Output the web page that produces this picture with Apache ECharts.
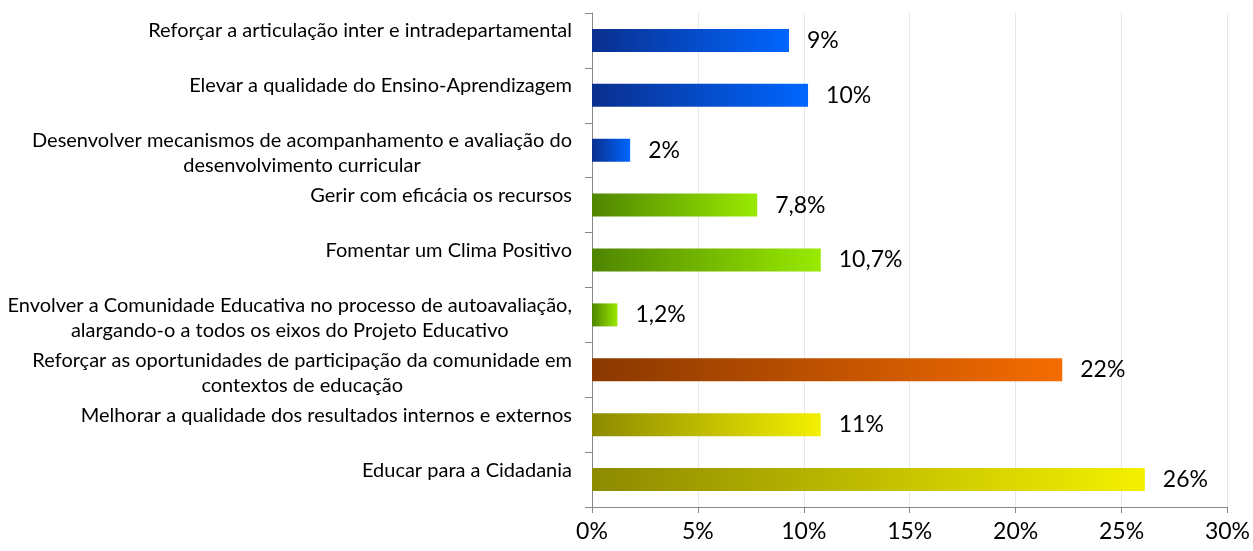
<!DOCTYPE html>
<html>
<head>
<meta charset="utf-8">
<script src="https://cdn.jsdelivr.net/npm/echarts@6/dist/echarts.min.js"></script>
<style>
  html, body { margin: 0; padding: 0; background: #fff; }
  #chart { width: 1253px; height: 551px; }
</style>
</head>
<body>
<div id="chart"></div>
<script>
// categories, top to bottom
var categories = [
  'Reforçar a articulação inter e intradepartamental',
  'Elevar a qualidade do Ensino-Aprendizagem',
  'Desenvolver mecanismos de acompanhamento e avaliação do\ndesenvolvimento curricular',
  'Gerir com eficácia os recursos',
  'Fomentar um Clima Positivo',
  'Envolver a Comunidade Educativa no processo de autoavaliação,\nalargando-o a todos os eixos do Projeto Educativo',
  'Reforçar as oportunidades de participação da comunidade em\ncontextos de educação',
  'Melhorar a qualidade dos resultados internos e externos',
  'Educar para a Cidadania'
];
// bar lengths (%)
var values = [9.3, 10.2, 1.8, 7.8, 10.8, 1.2, 22.2, 10.8, 26.1];
// texts shown next to the bars
var valueLabels = ['9%', '10%', '2%', '7,8%', '10,7%', '1,2%', '22%', '11%', '26%'];
// gradient start / end per bar
var gradStart = ['#0a2f8f', '#0a2f8f', '#0a2f8f', '#4f8500', '#4f8500', '#4f8500', '#8a3800', '#8c8a00', '#8c8a00'];
var gradEnd   = ['#0066ff', '#0066ff', '#0066ff', '#99ea00', '#99ea00', '#99ea00', '#f56c00', '#f4f000', '#f4f000'];
var xTicks = [0, 5, 10, 15, 20, 25, 30];

var myChart = echarts.init(document.getElementById('chart'));

var barData = values.map(function (v, i) {
  return {
    value: v,
    itemStyle: {
      color: new echarts.graphic.LinearGradient(0, 0, 1, 0, [
        { offset: 0, color: gradStart[i] },
        { offset: 1, color: gradEnd[i] }
      ])
    }
  };
});

var option = {
  animation: false,
  textStyle: { fontFamily: 'Lato' },
  grid: { left: 592, right: 25, top: 13, bottom: 44 },
  xAxis: {
    type: 'value',
    min: xTicks[0],
    max: xTicks[xTicks.length - 1],
    interval: 5,
    axisLine: { show: true, lineStyle: { color: '#868686', width: 1 } },
    axisTick: { show: true, length: 6, lineStyle: { color: '#868686' } },
    splitLine: { show: true, lineStyle: { color: '#e6e6e6', width: 1 } },
    axisLabel: {
      margin: 13,
      color: '#000',
      fontSize: 23,
      fontFamily: 'Lato',
      formatter: '{value}%'
    }
  },
  yAxis: {
    type: 'category',
    inverse: true,
    data: categories,
    axisLine: { show: true, lineStyle: { color: '#868686', width: 1 } },
    axisTick: { show: true, length: 7, lineStyle: { color: '#868686' } },
    axisLabel: {
      margin: 20,
      color: '#000',
      fontSize: 20,
      lineHeight: 25,
      fontFamily: 'Lato',
      formatter: function (v) {
        // Excel leaves room for a second line on single-line labels
        var t = v.indexOf('\n') < 0 ? v + '\n ' : v;
        return t.split('\n').map(function (s) { return '{c|' + s + '}'; }).join('\n');
      },
      rich: {
        c: { align: 'center', fontSize: 20, lineHeight: 25, color: '#000', fontFamily: 'Lato', padding: [6, 0, 0, 0] }
      }
    }
  },
  series: [{
    type: 'bar',
    barWidth: 23,
    data: barData,
    label: {
      show: true,
      position: 'right',
      distance: 18,
      color: '#000',
      fontSize: 23,
      fontFamily: 'Lato',
      formatter: function (p) { return valueLabels[p.dataIndex]; }
    }
  }]
};

myChart.setOption(option);
</script>
</body>
</html>
